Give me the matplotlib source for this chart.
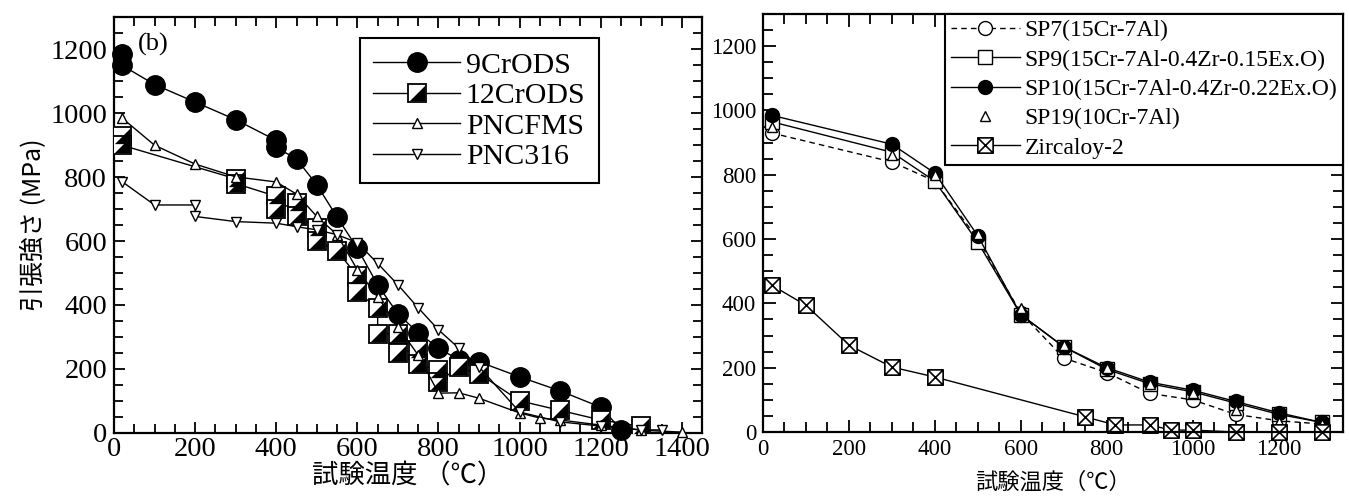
import matplotlib
matplotlib.use('Agg')
import matplotlib.pyplot as plt
from matplotlib.path import Path
from matplotlib.legend_handler import HandlerTuple
from matplotlib.ticker import MultipleLocator

plt.rcParams['font.family'] = ['Liberation Serif', 'Noto Sans CJK JP']

# ---- left panel (b): ODS steels vs reference steels ----
cr9_temp = [20, 20, 100, 200, 300, 400, 400, 450, 500, 550, 600, 650, 700, 750,
            800, 850, 900, 1000, 1100, 1200, 1250]
cr9_uts = [1185, 1150, 1090, 1035, 980, 915, 893, 857, 776, 675, 577, 463, 372, 313,
           265, 228, 222, 175, 131, 80, 10]

cr12_temp = [20, 20, 300, 300, 400, 400, 450, 450, 500, 500, 550, 600, 600, 650, 650,
             700, 700, 750, 750, 800, 800, 850, 900, 1000, 1100, 1200, 1300]
cr12_uts = [930, 900, 795, 780, 740, 700, 720, 680, 640, 600, 570, 490, 440, 390, 310,
            310, 250, 260, 215, 195, 160, 205, 185, 100, 70, 40, 20]

fms_temp = [20, 100, 200, 300, 400, 450, 500, 550, 600, 650, 700, 750, 800, 850, 900,
            1000, 1050, 1100, 1200, 1300, 1400]
fms_uts = [985, 900, 841, 801, 785, 747, 677, 620, 510, 426, 332, 243, 124, 125, 108,
           62, 46, 40, 24, 8, 2]

p316_temp = [20, 100, 200, 200, 300, 400, 450, 500, 550, 600, 650, 700, 750, 800, 850,
             900, 1000, 1100, 1200, 1300, 1350]
p316_uts = [786, 713, 713, 677, 661, 656, 645, 635, 620, 595, 530, 463, 391, 322, 265,
            206, 65, 34, 21, 9, 9]

# ---- right panel: FeCrAl ODS alloys vs Zircaloy-2 ----
sp_temp = [20, 300, 400, 500, 600, 700, 800, 900, 1000, 1100, 1200, 1300]
sp7_uts = [930, 840, 780, 600, 370, 230, 185, 120, 100, 55, 35, 25]
sp9_uts = [965, 870, 780, 590, 365, 265, 195, 150, 125, 90, 55, 30]
sp10_uts = [985, 895, 805, 610, 365, 265, 200, 155, 130, 95, 60, 30]
sp19_uts = [950, 860, 800, 615, 385, 270, 200, 150, 120, 70, 30, 25]

zr_temp = [20, 100, 200, 300, 400, 750, 820, 900, 950, 1000, 1100, 1200, 1300]
zr_uts = [457, 394, 270, 202, 171, 47, 22, 22, 6, 6, 0, 0, 0]

left_labels = ['9CrODS', '12CrODS', 'PNCFMS', 'PNC316']
right_labels = ['SP7(15Cr-7Al)', 'SP9(15Cr-7Al-0.4Zr-0.15Ex.O)',
                'SP10(15Cr-7Al-0.4Zr-0.22Ex.O)', 'SP19(10Cr-7Al)', 'Zircaloy-2']

# lower-right half of a square, drawn on top of an open square
HALF_TRI = Path([(-1, -1), (1, -1), (1, 1), (-1, -1)])
# square with both diagonals
BOX_X = Path([(-1, -1), (1, -1), (1, 1), (-1, 1), (-1, -1), (1, 1), (-1, 1), (1, -1)],
             [Path.MOVETO, Path.LINETO, Path.LINETO, Path.LINETO, Path.LINETO,
              Path.LINETO, Path.MOVETO, Path.LINETO])


def style_axis(ax, xmax, labelsize, major_len):
    '''
    Sets limits and inward ticks on all four sides of an axis.
    '''
    ax.set_xlim(0, xmax)
    ax.set_ylim(0, 1300)
    ax.xaxis.set_major_locator(MultipleLocator(200))
    ax.xaxis.set_minor_locator(MultipleLocator(50))
    ax.yaxis.set_major_locator(MultipleLocator(200))
    ax.yaxis.set_minor_locator(MultipleLocator(50))
    ax.tick_params(which='both', direction='in', top=True, right=True,
                   labelsize=labelsize, width=1.3, pad=5)
    ax.tick_params(which='major', length=major_len)
    ax.tick_params(which='minor', length=major_len * 0.8)
    for s in ax.spines.values():
        s.set_linewidth(1.6)


def left_panel(ax):
    '''
    Draws the ODS steel panel (b).
    '''
    h1, = ax.plot(cr9_temp, cr9_uts, '-o', color='black', lw=1.0, ms=14,
                  mfc='black', clip_on=False, zorder=3)
    h2a, = ax.plot(cr12_temp, cr12_uts, '-s', color='black', lw=1.0, ms=13,
                   mfc='white', mew=1.3, zorder=4)
    h2b, = ax.plot(cr12_temp, cr12_uts, ls='none', marker=HALF_TRI, ms=11,
                   color='black', mew=0, zorder=4)
    h3, = ax.plot(fms_temp, fms_uts, '-^', color='black', lw=1.0, ms=7,
                  mfc='white', mew=1.0, zorder=5, clip_on=False)
    h4, = ax.plot(p316_temp, p316_uts, '-v', color='black', lw=1.0, ms=7,
                  mfc='white', mew=1.0, zorder=5, clip_on=False)

    style_axis(ax, 1450, 20.5, 8)
    ax.tick_params(axis='x', pad=3)
    ax.text(58, 1215, '(b)', fontsize=19, va='center')
    ax.set_xlabel('試験温度 （℃）', fontsize=19, labelpad=1)
    ax.set_ylabel('引張強さ (MPa)', fontsize=18, family=['Noto Sans CJK JP'],
                  labelpad=2)

    leg = ax.legend([h1, (h2a, h2b), h3, h4], left_labels,
                    handler_map={tuple: HandlerTuple(ndivide=1)},
                    loc='upper left', bbox_to_anchor=(0.418, 0.95),
                    borderaxespad=0, fontsize=21.5, numpoints=1,
                    handlelength=2.9, handletextpad=0.2, labelspacing=0.12,
                    fancybox=False, edgecolor='black', framealpha=1,
                    borderpad=0.45)
    leg.get_frame().set_linewidth(1.5)


def right_panel(ax):
    '''
    Draws the FeCrAl ODS / Zircaloy-2 panel.
    '''
    h1, = ax.plot(sp_temp, sp7_uts, '--o', color='black', lw=1.0, ms=10,
                  mfc='white', mew=1.0, dashes=(4, 3))
    h2, = ax.plot(sp_temp, sp9_uts, '-s', color='black', lw=1.0, ms=10,
                  mfc='white', mew=1.0)
    h3, = ax.plot(sp_temp, sp10_uts, '-o', color='black', lw=1.0, ms=10,
                  mfc='black')
    h4, = ax.plot(sp_temp, sp19_uts, ls='none', marker='^', color='black', ms=7,
                  mfc='white', mew=1.0)
    h5, = ax.plot(zr_temp, zr_uts, '-', marker=BOX_X, color='black', lw=1.0,
                  ms=11, mfc='white', mew=1.2, clip_on=False)

    style_axis(ax, 1350, 16.5, 9)
    ax.set_xlabel('試験温度（℃）', fontsize=16, labelpad=9)

    leg = ax.legend([h1, h2, h3, h4, h5], right_labels, loc='upper right',
                    bbox_to_anchor=(1.0, 1.0), borderaxespad=0, fontsize=17,
                    numpoints=1, handlelength=2.9, handletextpad=0.2,
                    labelspacing=0.33, fancybox=False, edgecolor='black',
                    framealpha=1, borderpad=0.25)
    leg.get_frame().set_linewidth(1.5)


fig = plt.figure(figsize=(13.49, 4.98), dpi=100)
ax_left = fig.add_axes([0.0845, 0.131, 0.436, 0.834])
ax_right = fig.add_axes([0.5656, 0.1325, 0.430, 0.8394])

left_panel(ax_left)
right_panel(ax_right)

fig.savefig('out.png', dpi=100)
